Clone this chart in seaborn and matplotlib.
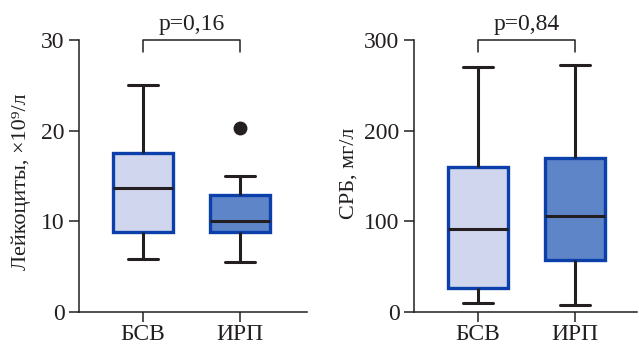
import matplotlib
matplotlib.use("Agg")
import matplotlib.pyplot as plt
import numpy as np
import pandas as pd
import seaborn as sns

groups = ["БСВ", "ИРП"]

# leukocytes, x10^9/l -- points chosen so that quartiles/whiskers match the figure
leu_bsv = [5.8, 8.8, 13.7, 17.5, 25.0]
leu_irp = [5.5, 8.8, 8.8, 10.0, 10.0, 12.9, 12.9, 15.0, 20.3]

# CRP, mg/l
crp_bsv = [10, 27, 92, 160, 270]
crp_irp = [8, 57, 106, 170, 272]

p_values = ["p=0,16", "p=0,84"]
ylabels = ["Лейкоциты, ×10⁹/л", "СРБ, мг/л"]
yticks = [[0, 10, 20, 30], [0, 100, 200, 300]]

fills = ["#D0D6EE", "#5F85C9"]
edge = "#0B3FAA"
ink = "#231F20"
fs = 17


def make_df(a, b):
    return pd.DataFrame({"group": [groups[0]] * len(a) + [groups[1]] * len(b),
                         "value": list(a) + list(b)})


sns.set_style("ticks")
plt.rcParams["font.family"] = ["Liberation Serif", "DejaVu Serif"]

fig = plt.figure(figsize=(6.39, 3.46), dpi=100)
ax1 = fig.add_axes([79 / 639, 34 / 346, 228 / 639, 272 / 346])
ax2 = fig.add_axes([414 / 639, 34 / 346, 223 / 639, 272 / 346])

datasets = [make_df(leu_bsv, leu_irp), make_df(crp_bsv, crp_irp)]
xlims = [(-0.66, 1.69), (-0.66, 1.64)]

for ax, df, p, yl, yt, xl in zip([ax1, ax2], datasets, p_values, ylabels, yticks, xlims):
    sns.boxplot(data=df, x="group", y="value", hue="group", palette=fills,
                saturation=1, width=0.62, linewidth=2.2, legend=False, ax=ax,
                boxprops=dict(edgecolor=edge, linewidth=2.4),
                whiskerprops=dict(color=ink, linewidth=2.2),
                capprops=dict(color=ink, linewidth=2.2),
                medianprops=dict(color=ink, linewidth=2.2),
                flierprops=dict(marker="o", markerfacecolor=ink, markeredgecolor=ink,
                                markersize=9))
    top = yt[-1]
    ax.set_ylim(0, top)
    ax.set_xlim(*xl)
    ax.set_yticks(yt)
    ax.set_xlabel("")
    ax.set_ylabel(yl, fontsize=16, color=ink)
    ax.tick_params(labelsize=fs, colors=ink, length=7, width=1.1, direction="out")
    ax.tick_params(axis="x", pad=2)
    sns.despine(ax=ax)
    for s in ["left", "bottom"]:
        ax.spines[s].set_linewidth(1.1)
        ax.spines[s].set_color(ink)
    # significance bracket
    leg = top * 0.045
    ax.plot([0, 0, 1, 1], [top - leg, top, top, top - leg], color=ink, lw=1.1,
            clip_on=False)
    ax.text(0.5, top * 1.02, p, ha="center", va="bottom", fontsize=fs, color=ink)

ax1.yaxis.set_label_coords(-0.21, 0.48)
ax2.yaxis.set_label_coords(-0.25, 0.51)

fig.savefig("out.png", dpi=100)
